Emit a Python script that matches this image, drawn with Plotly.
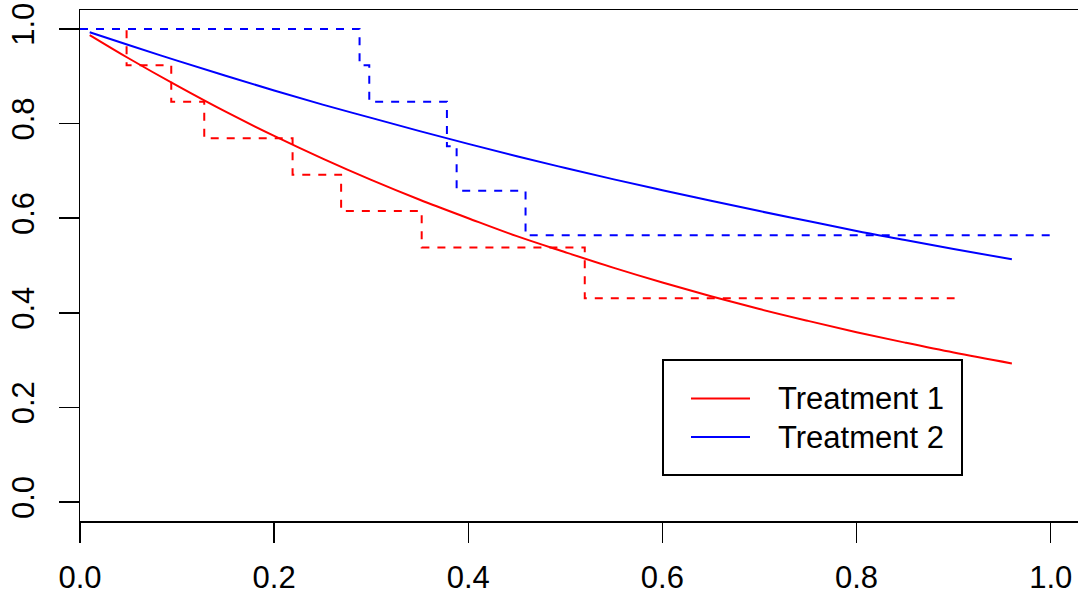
import plotly.graph_objects as go

# Kaplan-Meier step estimates (dashed)
km1_time = [0.0, 0.048, 0.094, 0.128, 0.219, 0.269, 0.352, 0.520, 0.901]
km1_surv = [1.0, 0.923, 0.846, 0.769, 0.692, 0.615, 0.538, 0.431, 0.431]
km2_time = [0.0, 0.288, 0.298, 0.378, 0.388, 0.459, 1.0]
km2_surv = [1.0, 0.923, 0.846, 0.752, 0.658, 0.564, 0.564]

# Fitted parametric survival curves (solid)
fit_time = [0.01, 0.05, 0.10, 0.15, 0.20, 0.25, 0.30, 0.35, 0.40, 0.45, 0.50,
            0.55, 0.60, 0.65, 0.70, 0.75, 0.80, 0.85, 0.90, 0.96]
fit1_surv = [0.987, 0.938, 0.880, 0.825, 0.774, 0.726, 0.681, 0.639, 0.600, 0.562,
             0.528, 0.495, 0.464, 0.435, 0.408, 0.383, 0.359, 0.337, 0.316, 0.293]
fit2_surv = [0.993, 0.966, 0.933, 0.901, 0.870, 0.840, 0.812, 0.784, 0.757, 0.731,
             0.706, 0.682, 0.659, 0.637, 0.615, 0.594, 0.573, 0.554, 0.535, 0.513]

legend_labels = ["Treatment 1", "Treatment 2"]
colors = ["#FF0000", "#0000FF"]
x_ticks = [0.0, 0.2, 0.4, 0.6, 0.8, 1.0]
y_ticks = [0.0, 0.2, 0.4, 0.6, 0.8, 1.0]

W, H = 1078, 594
ML, MR, MT, MB = 80, 0, 10, 594 - 521
FONT = "Liberation Sans, Arial, Helvetica, sans-serif"
FS = 31

fig = go.Figure()
fig.add_trace(go.Scatter(x=km1_time, y=km1_surv, mode="lines", line_shape="hv",
                         line=dict(color=colors[0], width=2, dash="8px,8px"),
                         showlegend=False, hoverinfo="skip"))
fig.add_trace(go.Scatter(x=km2_time, y=km2_surv, mode="lines", line_shape="hv",
                         line=dict(color=colors[1], width=2, dash="8px,8px"),
                         showlegend=False, hoverinfo="skip"))
fig.add_trace(go.Scatter(x=fit_time, y=fit1_surv, mode="lines", line_shape="spline",
                         line=dict(color=colors[0], width=2), showlegend=False))
fig.add_trace(go.Scatter(x=fit_time, y=fit2_surv, mode="lines", line_shape="spline",
                         line=dict(color=colors[1], width=2), showlegend=False))

PW = W - ML - MR
PH = H - MT - MB


def px(xs):  # pixel x -> paper
    return (xs - ML) / PW


def py(ys):  # pixel y -> paper
    return 1 - (ys - MT) / PH


# Legend box drawn like R's legend()
shapes = [dict(type="rect", xref="paper", yref="paper",
               x0=px(663), x1=px(962), y0=py(475), y1=py(360),
               line=dict(color="black", width=2), fillcolor="white", layer="above")]
annotations = []
for i, (lab, col) in enumerate(zip(legend_labels, colors)):
    yy = 398.5 + i * 38.5
    shapes.append(dict(type="line", xref="paper", yref="paper",
                       x0=px(691), x1=px(750), y0=py(yy), y1=py(yy),
                       line=dict(color=col, width=2), layer="above"))
    annotations.append(dict(x=px(776), y=py(yy), xref="paper", yref="paper",
                            text=lab, showarrow=False, xanchor="left", yanchor="middle",
                            font=dict(family=FONT, size=FS, color="black")))

fig.update_layout(
    width=W, height=H,
    margin=dict(l=ML, r=MR, t=MT, b=MB, pad=0, autoexpand=False),
    paper_bgcolor="white", plot_bgcolor="white",
    shapes=shapes, annotations=annotations,
    font=dict(family=FONT, size=FS, color="black"),
    xaxis=dict(range=[0, PW / 970.7], tickvals=x_ticks,
               ticktext=[f"{v:.1f}" for v in x_ticks], automargin=False,
               ticklabeloverflow="allow",
               showgrid=False, zeroline=False, showline=True, linecolor="black",
               linewidth=1.5, mirror=True, ticks="outside", ticklen=20, tickwidth=1.5,
               tickcolor="black", ticklabelstandoff=8),
    yaxis=dict(range=[-0.04, 1.04], tickvals=y_ticks,
               ticktext=[f"{v:.1f}" for v in y_ticks], automargin=False,
               ticklabeloverflow="allow",
               showgrid=False, zeroline=False, showline=True, linecolor="black",
               linewidth=1.5, ticks="outside", ticklen=20, tickwidth=1.5,
               tickcolor="black", tickangle=-90, ticklabelstandoff=12),
)

# Remove the default 8px page margin so the figure fills the window exactly.
fig.write_html("out.html",
               config={"displayModeBar": False, "staticPlot": True},
               post_script="document.body.style.margin='0';"
                           "document.body.style.overflow='hidden';")
